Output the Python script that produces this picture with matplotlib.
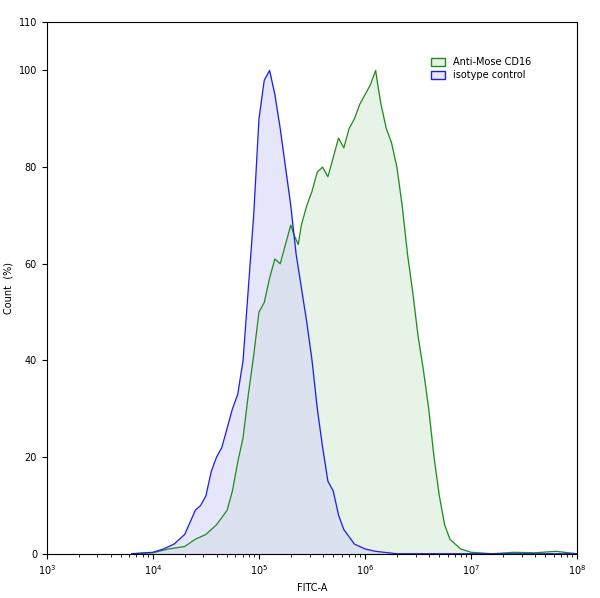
import numpy as np
import matplotlib
matplotlib.use("Agg")
import matplotlib.pyplot as plt
from matplotlib.patches import Patch

green_logx = [3.8,4.0,4.15,4.3,4.4,4.5,4.6,4.7,4.75,4.8,4.85,4.9,4.95,5.0,5.05,5.1,5.15,5.2,5.25,5.3,5.33,5.37,5.4,5.45,5.5,5.55,5.6,5.65,5.7,5.75,5.8,5.85,5.9,5.95,6.0,6.05,6.1,6.12,6.15,6.2,6.25,6.3,6.35,6.4,6.45,6.5,6.55,6.6,6.65,6.7,6.75,6.8,6.9,7.0,7.2,7.4,7.6,7.8,8.0]
green_y = [0,0.2,1,1.5,3,4,6,9,13,19,24,33,41,50,52,57,61,60,64,68,66,64,68,72,75,79,80,78,82,86,84,88,90,93,95,97,100,97,93,88,85,80,72,62,54,45,38,30,20,12,6,3,1,0.3,0,0.3,0.2,0.5,0]
blue_logx = [3.8,4.0,4.1,4.2,4.3,4.4,4.45,4.5,4.55,4.6,4.65,4.7,4.75,4.8,4.85,4.9,4.95,5.0,5.05,5.1,5.15,5.2,5.25,5.3,5.35,5.4,5.45,5.5,5.55,5.6,5.65,5.7,5.75,5.8,5.9,6.0,6.1,6.3,8.0]
blue_y = [0,0.3,1,2,4,9,10,12,17,20,22,26,30,33,40,55,70,90,98,100,95,88,80,72,62,55,48,40,30,22,15,13,8,5,2,1,0.5,0,0]

fig, ax = plt.subplots(figsize=(6.0,5.98), dpi=100)
fig.subplots_adjust(left=0.078, right=0.962, top=0.963, bottom=0.074)
gx = 10**np.array(green_logx); bx = 10**np.array(blue_logx)
ax.fill_between(gx, green_y, color='#e6f3e6')
ax.fill_between(bx, blue_y, color='#d6d6f8', alpha=0.6)
ax.plot(gx, green_y, color='#1f8a1f', lw=0.9)
ax.plot(bx, blue_y, color='#1f1fe0', lw=0.9)
ax.set_xscale('log'); ax.set_xlim(1e3,1e8); ax.set_ylim(0,110)
ax.set_yticks([0,20,40,60,80,100,110])
ax.tick_params(labelsize=7)
ax.set_xlabel('FITC-A', fontsize=7); ax.set_ylabel('Count  (%)', fontsize=7)
handles = [Patch(facecolor='#e6f3e6', edgecolor='#1f8a1f', label='Anti-Mose CD16'),
           Patch(facecolor='#e6e6fb', edgecolor='#1f1fe0', label='isotype control')]
ax.legend(handles=handles, loc='upper right', bbox_to_anchor=(0.93,0.95), fontsize=7,
          frameon=False, handlelength=1.5, handleheight=0.8, labelspacing=0.3)
fig.savefig('out.png')
